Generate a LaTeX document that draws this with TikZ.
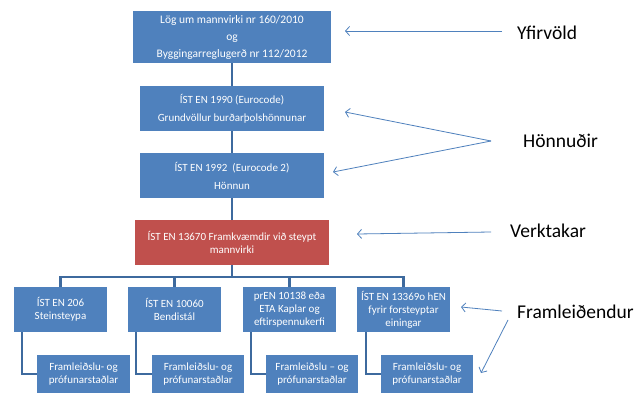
\documentclass[tikz,border=0pt]{standalone}
\usepackage{fontspec}
\setmainfont{Carlito}
\usepackage{xcolor}
\usepackage{tikz}
\usetikzlibrary{calc, arrows.meta}
\definecolor{boxblue}{HTML}{4F81BD}
\definecolor{boxred}{HTML}{C0504D}
\definecolor{linkblue}{HTML}{3E6A9E}
\tikzset{
  std/.style={fill=boxblue, text=white, align=center, inner sep=0pt, font=\fontsize{11}{13}\selectfont},
  link/.style={draw=linkblue, line width=2.4pt},
  note/.style={font=\fontsize{19.5}{22}\selectfont, inner sep=0pt},
  pointer/.style={draw=boxblue, line width=0.8pt, -{Straight Barb[length=4pt,width=9pt]}}
}

\begin{document}
\begin{tikzpicture}[x=1pt,y=-1pt]
  \useasboundingbox[fill=white] (0,0) rectangle (637,396);

  % Nodes
  \node[std, font=\fontsize{11.5}{13}\selectfont, minimum width=198, minimum height=52] (law) at (232,37)
    {Lög um mannvirki nr 160/2010\\[4pt]og\\[4pt]Byggingarreglugerð nr 112/2012};
  \node[std, minimum width=184, minimum height=45] (ec0) at (232,108.5)
    {ÍST EN 1990 (Eurocode)\\[5pt]Grundvöllur burðarþolshönnunar};
  \node[std, minimum width=184, minimum height=45] (ec2) at (232,175.5)
    {ÍST EN 1992\ \ (Eurocode 2)\\[5pt]Hönnun};
  \node[std, fill=boxred, minimum width=194, minimum height=45] (exec) at (232,242.5)
    {ÍST EN 13670 Framkvæmdir við steypt\\mannvirki};

  \node[std, minimum width=93, minimum height=45] (conc) at (60.5,309.5)
    {ÍST EN 206\\Steinsteypa};
  \node[std, minimum width=93, minimum height=45] (steel) at (174.5,309.5)
    {ÍST EN 10060\\Bendistál};
  \node[std, minimum width=93, minimum height=45] (tend) at (289.5,309.5)
    {prEN 10138 eða\\ETA Kaplar og\\eftirspennukerfi};
  \node[std, minimum width=93, minimum height=45] (prec) at (403.5,309.5)
    {ÍST EN 13369o hEN\\fyrir forsteyptar\\einingar};

  \node[std, minimum width=93, minimum height=38] (concp) at (83.5,374)
    {Framleiðslu- og\\prófunarstaðlar};
  \node[std, minimum width=92, minimum height=38] (steelp) at (198,374)
    {Framleiðslu- og\\prófunarstaðlar};
  \node[std, minimum width=92, minimum height=38] (tendp) at (312,374)
    {Framleiðslu – og\\prófunarstaðlar};
  \node[std, minimum width=92, minimum height=38] (precp) at (427,374)
    {Framleiðslu- og\\prófunarstaðlar};

  % Labels on the right
  \node[note, anchor=west] (auth) at (517,33) {Yfirvöld};
  \node[note, anchor=west] (design) at (523,141) {Hönnuðir};
  \node[note, anchor=west] (contr) at (510,231) {Verktakar};
  \node[note, anchor=west] (prod) at (517,312) {Framleiðendur};

  % Main flow
  \draw[link] (law) -- (ec0);
  \draw[link] (ec0) -- (ec2);
  \draw[link] (ec2) -- (exec);
  \coordinate (bus) at (232,277);
  \draw[link] (exec) -- (bus);
  \foreach \b in {conc, steel, tend, prec}
    \draw[link] (bus) -| (\b.north);

  % Elbows to the product standards
  \draw[link] ($(conc.south west)+(8,0)$) |- (concp.west);
  \draw[link] ($(steel.south west)+(8,0)$) |- (steelp.west);
  \draw[link] ($(tend.south west)+(8,0)$) |- (tendp.west);
  \draw[link] ($(prec.south west)+(9,0)$) |- (precp.west);

  % Pointers
  \coordinate (authfrom) at (502,31);
  \coordinate (authto) at (345,31);
  \coordinate (desfrom) at (491,141);
  \coordinate (desto1) at (345,112);
  \coordinate (desto2) at (333,172);
  \coordinate (confrom) at (491,232);
  \coordinate (conto) at (357,234);
  \coordinate (profrom1) at (502,311);
  \coordinate (proto1) at (461,307);
  \coordinate (profrom2) at (508,320);
  \coordinate (proto2) at (481,373);
  \draw[pointer] (authfrom) -- (authto);
  \draw[pointer] (desfrom) -- (desto1);
  \draw[pointer] (desfrom) -- (desto2);
  \draw[pointer] (confrom) -- (conto);
  \draw[pointer] (profrom1) -- (proto1);
  \draw[pointer] (profrom2) -- (proto2);
\end{tikzpicture}
\end{document}
